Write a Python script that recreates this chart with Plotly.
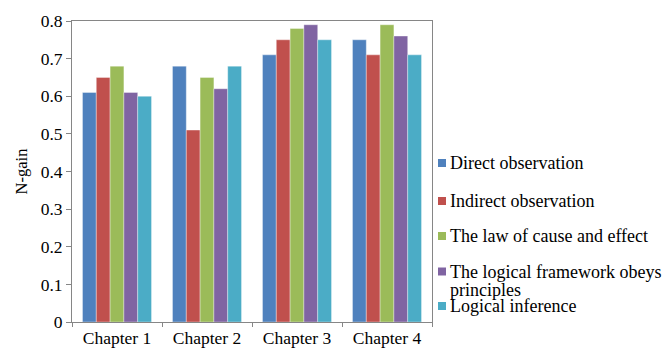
import plotly.graph_objects as go

chapters = ["Chapter 1", "Chapter 2", "Chapter 3", "Chapter 4"]
series_names = [
    "Direct observation",
    "Indirect observation",
    "The law of cause and effect",
    "The logical framework obeys<br>principles",
    "Logical inference",
]
direct_obs = [0.61, 0.68, 0.71, 0.75]
indirect_obs = [0.65, 0.51, 0.75, 0.71]
cause_effect = [0.68, 0.65, 0.78, 0.79]
framework = [0.61, 0.62, 0.79, 0.76]
inference = [0.60, 0.68, 0.75, 0.71]
y_ticks = [0, 0.1, 0.2, 0.3, 0.4, 0.5, 0.6, 0.7, 0.8]

series_values = [direct_obs, indirect_obs, cause_effect, framework, inference]
colors = ["#4F81BD", "#C0504D", "#9BBB59", "#8064A2", "#4BACC6"]

FONT = "Liberation Serif"

fig = go.Figure()
for name, vals, col in zip(series_names, series_values, colors):
    fig.add_trace(go.Bar(
        x=chapters, y=vals, name=name,
        marker=dict(color=col, line=dict(color="rgba(255,255,255,0.6)", width=0.6)),
        showlegend=False,
    ))

# Plot area in pixels: x 72..432, y 21..322
L, R, T, B = 72, 432, 21, 322
W, H = 671, 348
pw, ph = R - L, B - T

def px(x):
    return (x - L) / pw

def py(y):
    return (B - y) / ph

# Hand-placed legend on the right; wrapped names get one text line per row
marker_y = [163, 201, 236, 271.5, 306]
LINE_STEP = 18.5
for name, col, my in zip(series_names, colors, marker_y):
    fig.add_shape(type="rect", xref="paper", yref="paper",
                  x0=px(438), x1=px(446), y0=py(my + 4), y1=py(my - 4),
                  fillcolor=col, line=dict(width=0))
    for i, line in enumerate(name.split("<br>")):
        fig.add_annotation(xref="paper", yref="paper", x=px(449),
                           y=py(my + i * LINE_STEP),
                           xanchor="left", yanchor="middle", align="left",
                           text=line, showarrow=False, borderpad=0,
                           font=dict(family=FONT, size=18, color="#000000"))

fig.update_layout(
    width=W, height=H,
    margin=dict(l=L, r=W - R, t=T, b=H - B, autoexpand=False),
    paper_bgcolor="white", plot_bgcolor="white",
    barmode="group", bargap=0.233, bargroupgap=0,
    font=dict(family=FONT, size=17.5, color="#000000"),
    xaxis=dict(
        type="category", tickson="boundaries", ticks="outside", ticklen=4,
        tickcolor="#868686", showline=True, linecolor="#868686", linewidth=1,
        mirror=True, showgrid=False, tickfont=dict(family=FONT, size=17.5),
        automargin=False,
    ),
    yaxis=dict(
        range=[0, 0.8], tickvals=y_ticks, ticktext=[f"{v:g}" for v in y_ticks],
        ticks="outside", ticklen=5, tickcolor="#868686",
        showline=True, linecolor="#868686", linewidth=1, mirror=True,
        showgrid=False, zeroline=False, tickfont=dict(family=FONT, size=17.5),
        title=dict(text="N-gain", font=dict(family=FONT, size=16.5), standoff=8),
        automargin=False,
    ),
)

fig.write_html("out.html")
